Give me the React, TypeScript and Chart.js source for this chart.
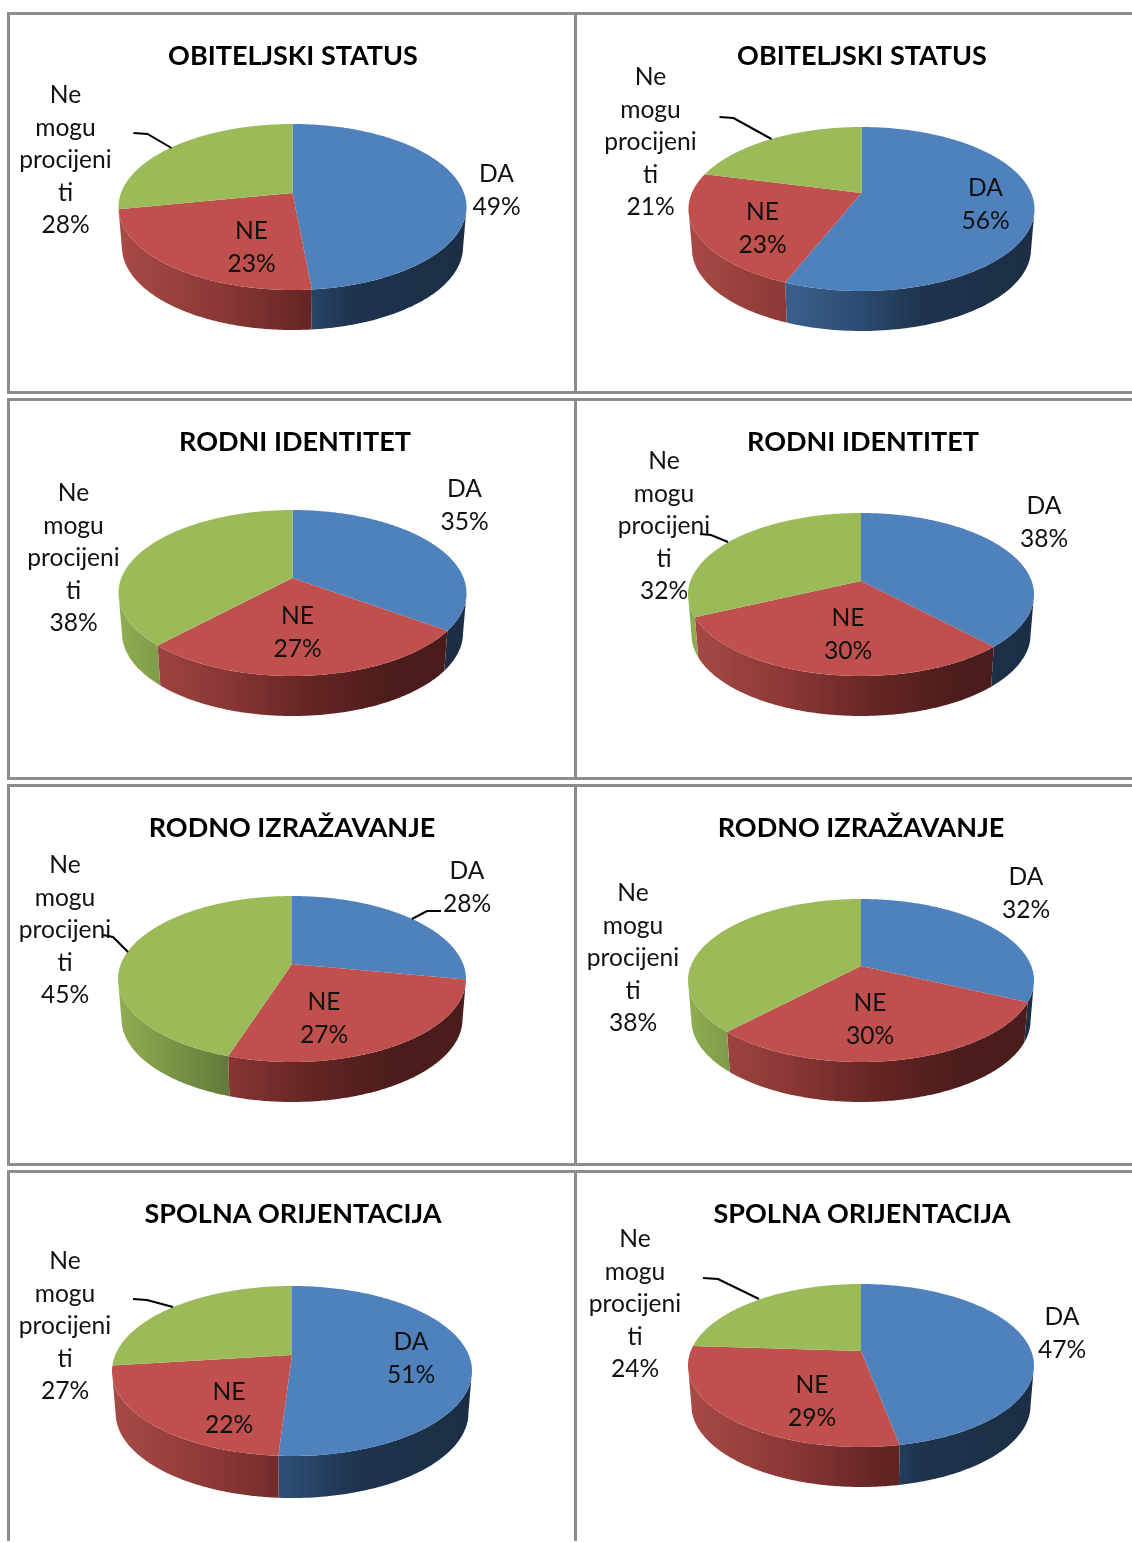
import React, { useEffect, useRef } from "react";
import { Chart, registerables } from "chart.js";

Chart.register(...registerables);

const categories = ["DA", "NE", "Ne mogu procijeniti"];
const categoryLabelLines = [["DA"], ["NE"], ["Ne", "mogu", "procijeni", "ti"]];
const chartTitles = [
  "OBITELJSKI STATUS", "OBITELJSKI STATUS",
  "RODNI IDENTITET", "RODNI IDENTITET",
  "RODNO IZRAŽAVANJE", "RODNO IZRAŽAVANJE",
  "SPOLNA ORIJENTACIJA", "SPOLNA ORIJENTACIJA",
];
const yesValues = [48.5, 56, 35, 38, 28, 32, 51, 47];
const noValues = [23.4, 23, 27, 30, 27, 30, 22, 29];
const unsureValues = [28.1, 21, 38, 32, 45, 38, 27, 24];

const sliceColors = ["#4f81bd", "#c0504d", "#9bbb59"];
// stops along the pie's width for the rim shading
const rimStops = [
  [[0, "#4a74a8"], [0.25, "#3d6290"], [0.5, "#2b4b72"], [0.68, "#1e334d"], [1, "#1b2e45"]],
  [[0, "#a84a47"], [0.3, "#8a3735"], [0.55, "#642524"], [0.8, "#4a1c1b"], [1, "#4a1c1b"]],
  [[0, "#90ae52"], [0.32, "#63793a"], [1, "#4f602e"]],
];

const COLS = [8, 577];
const ROWS = [13, 399, 785, 1171];
const CANVAS_W = 568;
const CANVAS_H = 371;
const titleShifts = [0.5, 0.5, 2.5, 2, 0, 0, 1, 1];

// apex y, top y, front y, depth, radius (page pixels)
const pieShapes = [
  [193, 124, 290, 40, 174], [193, 127, 291, 40, 173],
  [578, 510, 676, 40, 174], [581, 513, 676, 40, 173],
  [964, 896, 1062, 40, 174], [966, 899, 1062, 40, 173],
  [1355, 1286, 1456, 42, 180], [1351, 1284, 1447, 40, 173],
];
// label centres: x, y of first line, per slice (page pixels)
const labelSpots = [
  [[496, 174], [251, 231], [65, 95]], [[985, 188], [762, 212], [650, 77]],
  [[464, 489], [297, 616], [73, 493]], [[1044, 506], [848, 618], [664, 461]],
  [[467, 871], [324, 1002], [65, 865]], [[1026, 877], [870, 1003], [633, 893]],
  [[411, 1342], [229, 1392], [65, 1261]], [[1062, 1317], [812, 1385], [635, 1239]],
];
const leaderLines = [
  [[[133, 133], [147, 134], [171, 148]]],
  [[[719, 117], [733, 118], [771, 139]]],
  [],
  [[[700, 534], [711, 535], [728, 542]]],
  [[[412, 919], [427, 911], [441, 911]], [[103, 935], [113, 937], [128, 952]]],
  [],
  [[[133, 1299], [147, 1300], [173, 1307]]],
  [[[703, 1278], [718, 1279], [759, 1299]]],
];

const LABEL_FONT = "24.6px Lato";
const LINE_GAP = 32.5;

const pie3d = {
  id: "pie3d",
  beforeDatasetsDraw(chart: any, _args: any, opts: any) {
    const ctx = chart.ctx;
    const arcs = chart.getDatasetMeta(0).data;
    const top = opts.originY;
    const shift = opts.shift;
    const [apexPage, topPage, frontPage, depth] = opts.shape;
    const apex = apexPage - top;
    const ryBack = apexPage - topPage;
    const ryFront = frontPage - apexPage;
    const ratio = ryFront / ryBack;
    const k = (ratio - 1) / (ratio + 1);
    const A = ryFront * (1 - k);
    const midY = (topPage + frontPage) / 2 - top;
    const project = (a: number, cx: number, R: number) => {
      const B = R * Math.sqrt(1 - k * k);
      const X = Math.cos(a), Y = Math.sin(a);
      return [cx + (B * X) / (1 - k * Y), apex + (A * Y) / (1 - k * Y)];
    };
    // rims first, then tops
    arcs.forEach((arc: any, i: number) => {
      const { startAngle, endAngle, outerRadius: R } = arc;
      const cx = arc.x - shift;
      const g = ctx.createLinearGradient(cx - R, 0, cx + R, 0);
      rimStops[i].forEach(([p, c]: any) => g.addColorStop(p, c));
      const pts: number[][] = [];
      const n = 160;
      for (let s = 0; s <= n; s++) {
        const p = project(startAngle + ((endAngle - startAngle) * s) / n, cx, R);
        if (p[1] >= midY) pts.push(p);
      }
      if (pts.length < 2) return;
      ctx.beginPath();
      pts.forEach((p, j) => (j ? ctx.lineTo(p[0], p[1]) : ctx.moveTo(p[0], p[1])));
      for (let j = pts.length - 1; j >= 0; j--) {
        ctx.lineTo(cx + (pts[j][0] - cx) * 0.98, pts[j][1] + depth);
      }
      ctx.closePath();
      ctx.fillStyle = g;
      ctx.fill();
    });
    arcs.forEach((arc: any, i: number) => {
      const { startAngle, endAngle, outerRadius: R } = arc;
      const cx = arc.x - shift;
      ctx.beginPath();
      ctx.moveTo(cx, apex);
      const n = 200;
      for (let s = 0; s <= n; s++) {
        const p = project(startAngle + ((endAngle - startAngle) * s) / n, cx, R);
        ctx.lineTo(p[0], p[1]);
      }
      ctx.closePath();
      ctx.fillStyle = sliceColors[i];
      ctx.fill();
    });
    return false;
  },
  afterDraw(chart: any, _args: any, opts: any) {
    const ctx = chart.ctx;
    ctx.save();
    ctx.translate(-opts.originX, -opts.originY);
    ctx.strokeStyle = "#000";
    ctx.lineWidth = 2;
    opts.leaders.forEach((line: number[][]) => {
      ctx.beginPath();
      line.forEach((p, j) => (j ? ctx.lineTo(p[0], p[1]) : ctx.moveTo(p[0], p[1])));
      ctx.stroke();
    });
    ctx.font = LABEL_FONT;
    ctx.fillStyle = "#111";
    ctx.textAlign = "center";
    ctx.textBaseline = "middle";
    chart.data.datasets[0].data.forEach((v: number, i: number) => {
      const lines = [...categoryLabelLines[i], `${Math.round(v)}%`];
      const [x, y] = opts.spots[i];
      lines.forEach((t, j) => ctx.fillText(t, x, y + 0.5 + j * LINE_GAP));
    });
    ctx.restore();
  },
};

function PiePanel({ index }: { index: number }) {
  const ref = useRef<HTMLCanvasElement | null>(null);
  const shift = titleShifts[index];
  const left = COLS[index % 2] + shift;
  const top = ROWS[Math.floor(index / 2)];
  useEffect(() => {
    const chart = new Chart(ref.current as HTMLCanvasElement, {
      type: "pie",
      plugins: [pie3d],
      data: {
        labels: categories,
        datasets: [{
          data: [yesValues[index], noValues[index], unsureValues[index]],
          backgroundColor: sliceColors,
          borderWidth: 0,
          radius: pieShapes[index][4],
        }],
      },
      options: {
        responsive: false,
        animation: false,
        layout: { padding: 0 },
        plugins: {
          legend: { display: false },
          tooltip: { enabled: false },
          title: {
            display: true,
            text: chartTitles[index],
            color: "#000",
            font: { family: "Lato", size: 27, weight: "bold" },
            padding: { top: 27, bottom: 0 },
          },
          pie3d: {
            originX: left,
            originY: top,
            shift,
            shape: pieShapes[index],
            spots: labelSpots[index],
            leaders: leaderLines[index],
          },
        } as any,
      },
    } as any);
    return () => chart.destroy();
  }, [index]);
  return (
    <canvas
      ref={ref}
      width={CANVAS_W}
      height={CANVAS_H}
      style={{ position: "absolute", left, top, width: CANVAS_W, height: CANVAS_H, filter: "blur(0.5px)" }}
    />
  );
}

const rule = (l: number, t: number, w: number, h: number, key: string) => (
  <div key={key} style={{ position: "absolute", left: l, top: t, width: w, height: h, background: "#8c8c8c" }} />
);

export default function App() {
  const rules: React.ReactNode[] = [];
  ROWS.forEach((r, i) => {
    const h = i < 3 ? 381 : 1542 - r;
    rules.push(rule(7, r - 1, 3, h, `vl${i}`), rule(574, r - 1, 3, h, `vr${i}`));
    rules.push(rule(7, r - 1, 1125, 3, `t${i}`));
    if (i < 3) rules.push(rule(7, r + 378, 1125, 3, `b${i}`));
  });
  return (
    <div style={{ position: "fixed", left: 0, top: 0, width: 1132, height: 1542, overflow: "hidden", background: "#fff" }}>
      {rules}
      {chartTitles.map((_, i) => <PiePanel key={i} index={i} />)}
    </div>
  );
}
